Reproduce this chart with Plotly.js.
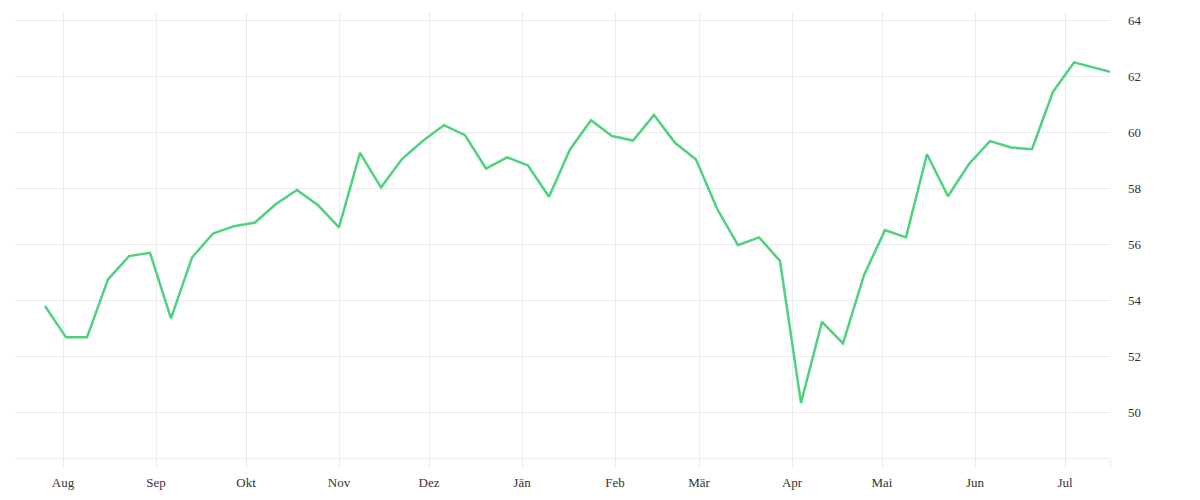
<!DOCTYPE html>
<html>
<head>
<meta charset="utf-8">
<script src="https://cdn.plot.ly/plotly-3.0.1.min.js"></script>
<style>
  html, body { margin: 0; padding: 0; background: #ffffff; }
  #plot { width: 1200px; height: 500px; }
</style>
</head>
<body>
<div id="plot"></div>
<script>

// Weekly values
let dates = [
  "2022-07-26", "2022-08-02", "2022-08-09", "2022-08-16", "2022-08-23", "2022-08-30",
  "2022-09-06", "2022-09-13", "2022-09-20", "2022-09-27", "2022-10-04", "2022-10-11",
  "2022-10-18", "2022-10-25", "2022-11-01", "2022-11-08", "2022-11-15", "2022-11-22",
  "2022-11-29", "2022-12-06", "2022-12-13", "2022-12-20", "2022-12-27", "2023-01-03",
  "2023-01-10", "2023-01-17", "2023-01-24", "2023-01-31", "2023-02-07", "2023-02-14",
  "2023-02-21", "2023-02-28", "2023-03-07", "2023-03-14", "2023-03-21", "2023-03-28",
  "2023-04-04", "2023-04-11", "2023-04-18", "2023-04-25", "2023-05-02", "2023-05-09",
  "2023-05-16", "2023-05-23", "2023-05-30", "2023-06-06", "2023-06-13", "2023-06-20",
  "2023-06-27", "2023-07-04", "2023-07-16"
];

let values = [
  53.79, 52.67, 52.67, 54.74, 55.57, 55.69,
  53.35, 55.52, 56.38, 56.64, 56.77, 57.43,
  57.93, 57.39, 56.60, 59.26, 58.02, 59.04,
  59.69, 60.25, 59.89, 58.70, 59.10, 58.81,
  57.69, 59.38, 60.42, 59.86, 59.70, 60.61,
  59.62, 59.02, 57.27, 55.96, 56.24, 55.40,
  50.33, 53.22, 52.45, 54.89, 56.50, 56.24,
  59.21, 57.71, 58.86, 59.68, 59.45, 59.39,
  61.44, 62.49, 62.15
];

// Month ticks (last one closes the plot on the right)
let monthTicks = [
  "2022-08-01", "2022-09-01", "2022-10-01", "2022-11-01", "2022-12-01", "2023-01-01",
  "2023-02-01", "2023-03-01", "2023-04-01", "2023-05-01", "2023-06-01", "2023-07-01",
  "2023-07-16"
];
let monthLabels = [
  "Aug", "Sep", "Okt", "Nov", "Dez", "Jän",
  "Feb", "Mär", "Apr", "Mai", "Jun", "Jul",
  ""
];

let yTicks = [50, 52, 54, 56, 58, 60, 62, 64];

let gridcol = "#ebebeb";
let textfont = {
  family: "'Liberation Serif', 'DejaVu Serif', serif",
  size: 13,
  color: "#333333"
};

let trace = {
  x: dates,
  y: values,
  type: "scatter",
  mode: "lines",
  hoverinfo: "none",
  line: {
    color: "#4fd17f",
    width: 2.5
  },
  showlegend: false
};

let layout = {
  width: 1200,
  height: 500,
  paper_bgcolor: "#ffffff",
  plot_bgcolor: "#ffffff",
  font: textfont,
  margin: { l: 15, r: 90, t: 12, b: 42 },
  xaxis: {
    type: "date",
    range: ["2022-07-16", "2023-07-16"],
    tickmode: "array",
    tickvals: monthTicks,
    ticktext: monthLabels,
    ticks: "outside",
    ticklen: 10,
    tickwidth: 1,
    tickcolor: gridcol,
    ticklabelstandoff: 2,
    showgrid: true,
    gridcolor: gridcol,
    gridwidth: 1,
    showline: true,
    linecolor: gridcol,
    linewidth: 1,
    zeroline: false,
    fixedrange: true,
    tickfont: textfont
  },
  yaxis: {
    side: "right",
    range: [48.36, 64.29],
    tickmode: "array",
    tickvals: yTicks,
    ticktext: yTicks.map(x => String(x)),
    ticks: "",
    ticklabelstandoff: 17,
    showgrid: true,
    gridcolor: gridcol,
    gridwidth: 1,
    showline: false,
    zeroline: false,
    fixedrange: true,
    tickfont: textfont
  }
};

Plotly.newPlot("plot", [trace], layout, { displayModeBar: false, staticPlot: true });

</script>
</body>
</html>
